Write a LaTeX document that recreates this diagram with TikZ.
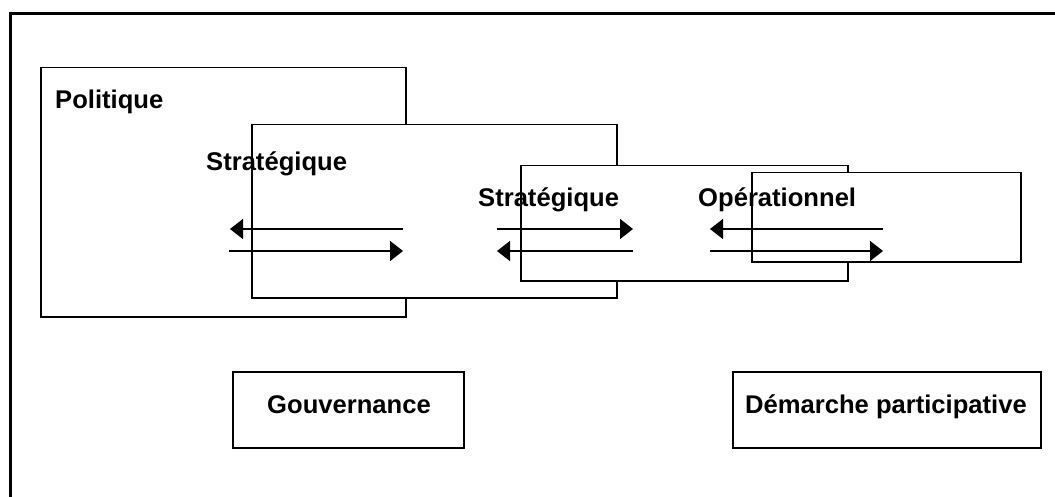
\documentclass[tikz,border=0pt]{standalone}
\usepackage{fontspec}
\setmainfont{Liberation Sans}
\usetikzlibrary{arrows.meta}
\tikzset{
  boxshape/.style={draw=black, fill=white, line width=1.5pt, rectangle, inner sep=0pt, anchor=north west},
  lbl/.style={font=\bfseries\fontsize{25.6}{30}\selectfont, inner sep=0pt, anchor=base west},
  lblc/.style={font=\bfseries\fontsize{25.6}{30}\selectfont, inner sep=0pt, anchor=base},
  flow/.style={line width=1.5pt, -{Triangle[length=13pt,width=20pt]}},
  frame/.style={line width=3pt, line cap=rect}
}
\begin{document}
\begin{tikzpicture}[x=1pt,y=-1pt]
\useasboundingbox (0,0) rectangle (1055,497);
% outer frame (top and left visible)
\coordinate (fbl) at (10,500);
\coordinate (ftl) at (10,14);
\coordinate (ftr) at (1058,14);
\draw[frame] (fbl) -- (ftl) -- (ftr);
% overlapping boxes
\node[boxshape, minimum width=365pt, minimum height=249pt] (pol) at (40,67) {};
\node[boxshape, minimum width=365pt, minimum height=173pt] (strA) at (251,124) {};
\node[boxshape, minimum width=327pt, minimum height=115pt] (strB) at (520,165) {};
\node[boxshape, minimum width=269pt, minimum height=89pt] (ope) at (751,172) {};
% labels
\node[lbl] (tpol) at (55,109) {Politique};
\node[lbl] (tstrA) at (206,171) {Stratégique};
\node[lbl] (tstrB) at (478,207) {Stratégique};
\node[lbl] (tope) at (698,207) {Opérationnel};
% arrow end points
\coordinate (a1s) at (403,229); \coordinate (a1e) at (230,229);
\coordinate (b1s) at (229,251); \coordinate (b1e) at (403,251);
\coordinate (a2s) at (497,229); \coordinate (a2e) at (633,229);
\coordinate (b2s) at (633,251); \coordinate (b2e) at (497,251);
\coordinate (a3s) at (883,229); \coordinate (a3e) at (710,229);
\coordinate (b3s) at (710,251); \coordinate (b3e) at (883,251);
\draw[flow] (a1s) -- (a1e);
\draw[flow] (b1s) -- (b1e);
\draw[flow] (a2s) -- (a2e);
\draw[flow] (b2s) -- (b2e);
\draw[flow] (a3s) -- (a3e);
\draw[flow] (b3s) -- (b3e);
% bottom boxes
\node[boxshape, minimum width=231pt, minimum height=76pt] (gov) at (232,371) {};
\node[boxshape, minimum width=308pt, minimum height=76pt] (dem) at (732,371) {};
\node[lblc] (tgov) at (349,413) {Gouvernance};
\node[lblc] (tdem) at (886,413) {Démarche participative};
\end{tikzpicture}
\end{document}
